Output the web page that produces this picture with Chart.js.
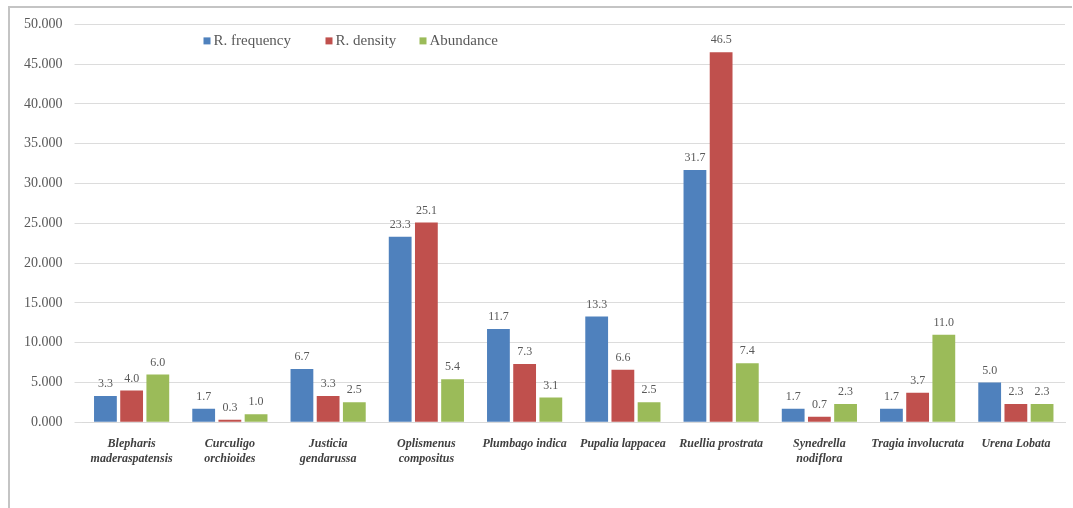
<!DOCTYPE html>
<html>
<head>
<meta charset="utf-8">
<script src="https://cdn.jsdelivr.net/npm/chart.js@4.4.0/dist/chart.umd.min.js"></script>
<style>
  html, body { margin: 0; padding: 0; background: #fff; }
  #frame {
    position: absolute; left: 8px; top: 6px; width: 1062px; height: 500px;
    border-left: 2px solid #c4c4c4; border-top: 2px solid #c4c4c4;
  }
  #wrap { position: absolute; left: 2px; top: -4px; width: 1058px; height: 500px; }
</style>
</head>
<body>
<div id="frame"><div id="wrap"><canvas id="chart"></canvas></div></div>
<script>
const species = [
  ['Blepharis', 'maderaspatensis'],
  ['Curculigo', 'orchioides'],
  ['Justicia', 'gendarussa'],
  ['Oplismenus', 'compositus'],
  'Plumbago indica',
  'Pupalia lappacea',
  'Ruellia prostrata',
  ['Synedrella', 'nodiflora'],
  'Tragia involucrata',
  'Urena Lobata'
];
const relFrequency = [3.3, 1.7, 6.7, 23.3, 11.7, 13.3, 31.7, 1.7, 1.7, 5.0];
const relDensity   = [4.0, 0.3, 3.3, 25.1, 7.3, 6.6, 46.5, 0.7, 3.7, 2.3];
const abundance    = [6.0, 1.0, 2.5, 5.4, 3.1, 2.5, 7.4, 2.3, 11.0, 2.3];
const yTicksMax = 50;
const yTicksStep = 5;

const serif = "'Liberation Serif', 'DejaVu Serif', serif";

// value labels above every bar
const barValues = {
  id: 'barValues',
  afterDatasetsDraw(chart) {
    const ctx = chart.ctx;
    ctx.save();
    ctx.font = '12px ' + serif;
    ctx.fillStyle = '#595959';
    ctx.textAlign = 'center';
    ctx.textBaseline = 'bottom';
    chart.data.datasets.forEach((ds, i) => {
      chart.getDatasetMeta(i).data.forEach((bar, j) => {
        ctx.fillText(ds.data[j].toFixed(1), bar.x, bar.y - 6);
      });
    });
    ctx.restore();
  }
};

// legend sitting inside the plot, left of centre
const innerLegend = {
  id: 'innerLegend',
  afterDraw(chart) {
    const ctx = chart.ctx;
    const area = chart.chartArea;
    const starts = [121, 243, 337];
    ctx.save();
    ctx.font = '15px ' + serif;
    ctx.textBaseline = 'middle';
    chart.data.datasets.forEach((ds, i) => {
      const x = area.left + starts[i];
      const y = area.top + 17;
      ctx.fillStyle = ds.backgroundColor;
      ctx.fillRect(x, y - 4, 7, 7);
      ctx.fillStyle = '#595959';
      ctx.fillText(ds.label, x + 10, y);
    });
    ctx.restore();
  }
};

new Chart(document.getElementById('chart'), {
  type: 'bar',
  data: {
    labels: species,
    datasets: [
      { label: 'R. frequency', data: relFrequency, backgroundColor: '#4F81BD' },
      { label: 'R. density', data: relDensity, backgroundColor: '#C0504D' },
      { label: 'Abundance', data: abundance, backgroundColor: '#9BBB59' }
    ]
  },
  options: {
    responsive: true,
    maintainAspectRatio: false,
    animation: false,
    categoryPercentage: 0.8,
    barPercentage: 0.87,
    layout: { padding: { top: 0, right: 5, bottom: 31, left: 0 } },
    plugins: {
      legend: { display: false },
      tooltip: { enabled: false }
    },
    scales: {
      x: {
        grid: { display: false },
        border: { color: '#d9d9d9' },
        ticks: {
          color: '#404040',
          padding: 7,
          maxRotation: 0,
          autoSkip: false,
          font: { family: serif, size: 12, style: 'italic', weight: 'bold' }
        }
      },
      y: {
        min: 0,
        max: yTicksMax,
        border: { display: false },
        grid: { color: '#dcdcdc' },
        ticks: {
          stepSize: yTicksStep,
          color: '#595959',
          padding: 12,
          font: { family: serif, size: 14 },
          callback: v => v.toFixed(3)
        }
      }
    }
  },
  plugins: [barValues, innerLegend]
});
</script>
</body>
</html>
